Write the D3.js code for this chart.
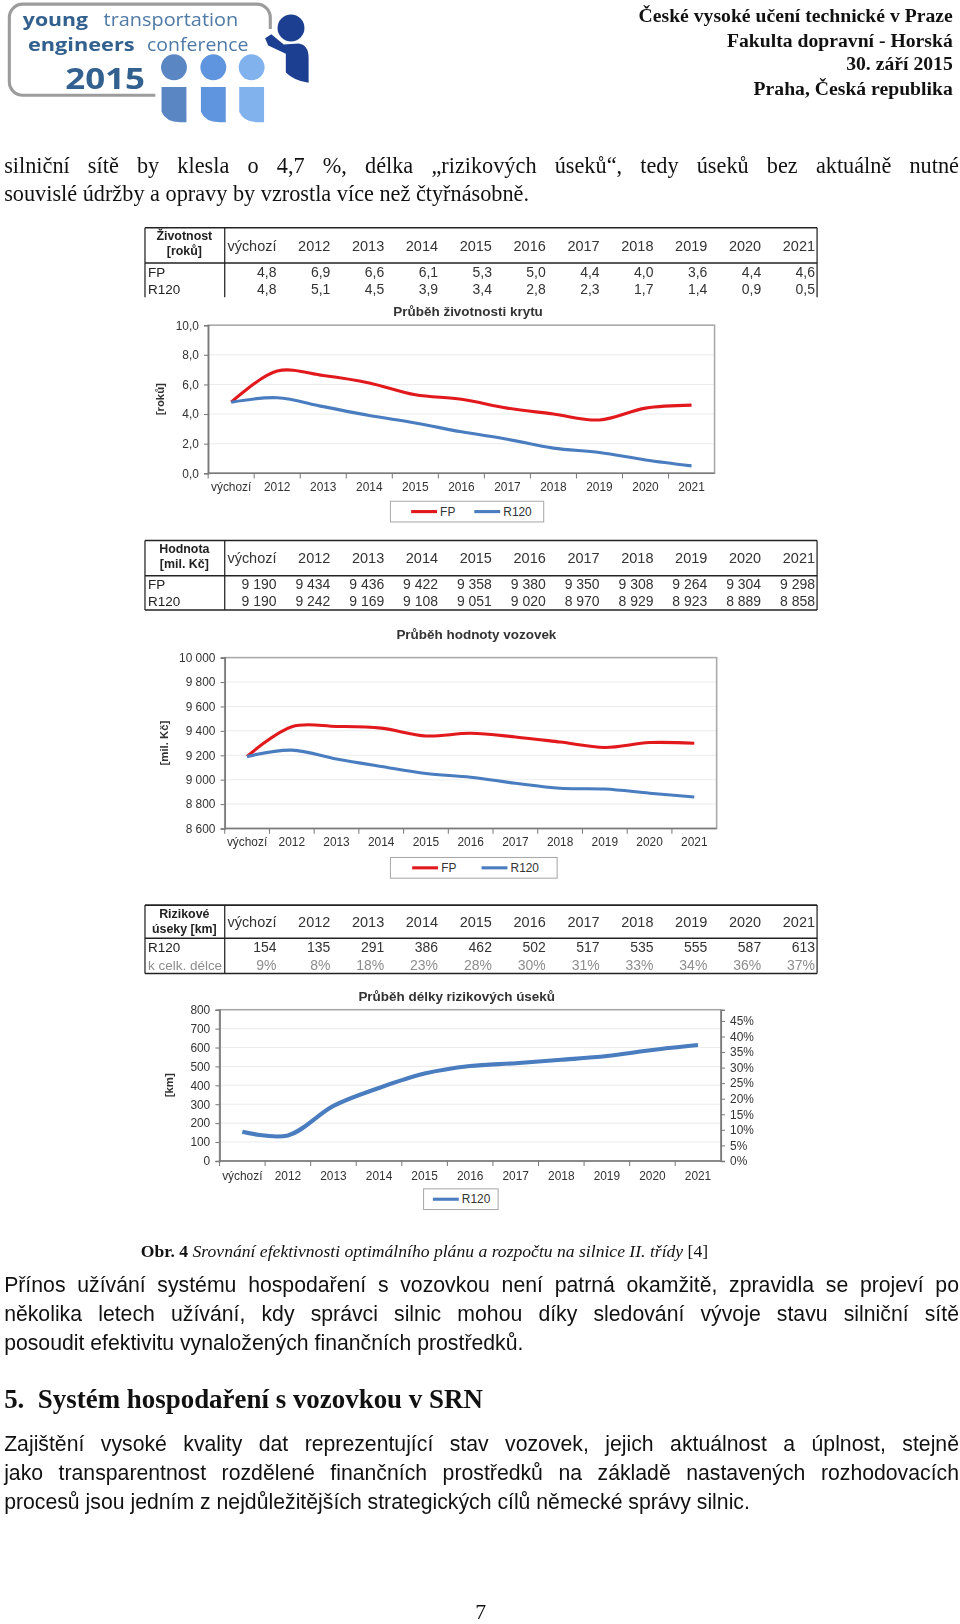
<!DOCTYPE html>
<html>
<head>
<meta charset="utf-8">
<script src="https://cdn.jsdelivr.net/npm/d3@7"></script>
<style>
  body { margin: 0; background: #fff; overflow: hidden; width: 960px; height: 1624px; }
  /* layout was measured on a 927px wide copy of the page, so scale up to 960 */
  #page { position: relative; width: 927px; height: 1568px; transform: scale(1.0356); transform-origin: 0 0; }
  #page svg { position: absolute; left: 0; top: 0; }
  .t { position: absolute; white-space: nowrap; color: #111; line-height: 1; }
  .serif { font-family: "Liberation Serif", "Times New Roman", serif; }
  .sans { font-family: "Liberation Sans", Arial, sans-serif; }
  .just { text-align: justify; text-align-last: justify; white-space: normal; }
  .hdr { font-weight: bold; font-size: 19px; right: 7px; text-align: right; }
</style>
</head>
<body>
<div id="page"></div>
<script>
// categories shared by all three tables / charts
const cats = ["výchozí", "2012", "2013", "2014", "2015", "2016", "2017", "2018", "2019", "2020", "2021"];

// Průběh životnosti krytu [roků]
const lifeFP   = [4.8, 6.9, 6.6, 6.1, 5.3, 5.0, 4.4, 4.0, 3.6, 4.4, 4.6];
const lifeR120 = [4.8, 5.1, 4.5, 3.9, 3.4, 2.8, 2.3, 1.7, 1.4, 0.9, 0.5];
const lifeTicks = [0, 2, 4, 6, 8, 10];

// Průběh hodnoty vozovek [mil. Kč]
const valueFP   = [9190, 9434, 9436, 9422, 9358, 9380, 9350, 9308, 9264, 9304, 9298];
const valueR120 = [9190, 9242, 9169, 9108, 9051, 9020, 8970, 8929, 8923, 8889, 8858];
const valueTicks = [8600, 8800, 9000, 9200, 9400, 9600, 9800, 10000];

// Průběh délky rizikových úseků [km] + podíl k celkové délce
const riskR120  = [154, 135, 291, 386, 462, 502, 517, 535, 555, 587, 613];
const riskShare = [0.09, 0.08, 0.18, 0.23, 0.28, 0.30, 0.31, 0.33, 0.34, 0.36, 0.37];
const riskTicks  = [0, 100, 200, 300, 400, 500, 600, 700, 800];
const shareTicks = [0, 0.05, 0.10, 0.15, 0.20, 0.25, 0.30, 0.35, 0.40, 0.45];

const RED = "#e2191c", BLUE = "#4a7dbf";
const SANS = "'Liberation Sans', Arial, sans-serif";

const loc = d3.formatLocale({ decimal: ",", thousands: "\u00a0", grouping: [3], currency: ["", " Kč"] });
const f1 = loc.format(".1f"), fK = loc.format(",.0f"), fP = loc.format(".0%");

const page = d3.select("#page");

// ---------- running text (html, so lines can be justified) ----------
function line(txt, x, base, size, cls, opts = {}) {
  const d = page.append("div")
    .attr("class", "t " + cls)
    .style("left", x + "px")
    .style("top", (base - 0.84 * size) + "px")
    .style("font-size", size + "px");
  if (opts.width) d.style("width", opts.width + "px");
  if (opts.html) d.html(txt); else d.text(txt);
  return d;
}

const hdrLines = ["České vysoké učení technické v Praze", "Fakulta dopravní - Horská", "30. září 2015", "Praha, Česká republika"];
hdrLines.forEach((s, i) => {
  page.append("div").attr("class", "t serif hdr")
    .style("top", (5 + i * 23.5) + "px").text(s);
});

line("silniční sítě by klesla o 4,7 %, délka „rizikových úseků“, tedy úseků bez aktuálně nutné", 4, 168, 21.5, "serif just", { width: 922 });
line("souvislé údržby a opravy by vzrostla více než čtyřnásobně.", 4, 195, 21.5, "serif");

line("<b>Obr. 4</b> <i>Srovnání efektivnosti optimálního plánu a rozpočtu na silnice II. třídy</i> [4]", 136, 1214, 17, "serif", { html: true });

line("Přínos užívání systému hospodaření s vozovkou není patrná okamžitě, zpravidla se projeví po", 4, 1248, 20.5, "sans just", { width: 922 });
line("několika letech užívání, kdy správci silnic mohou díky sledování vývoje stavu silniční sítě", 4, 1276, 20.5, "sans just", { width: 922 });
line("posoudit efektivitu vynaložených finančních prostředků.", 4, 1304, 20.5, "sans");

line("<b>5.&nbsp;&nbsp;Systém hospodaření s vozovkou v SRN</b>", 4, 1361, 26, "serif", { html: true });

line("Zajištění vysoké kvality dat reprezentující stav vozovek, jejich aktuálnost a úplnost, stejně", 4, 1401, 20.5, "sans just", { width: 922 });
line("jako transparentnost rozdělené finančních prostředků na základě nastavených rozhodovacích", 4, 1429, 20.5, "sans just", { width: 922 });
line("procesů jsou jedním z nejdůležitějších strategických cílů německé správy silnic.", 4, 1457, 20.5, "sans");

line("7", 459, 1564, 21, "serif");

// ---------- svg layer: logo, tables, charts ----------
const svg = page.append("svg").attr("width", 927).attr("height", 1568);

// logo
const logo = svg.append("g");
logo.append("rect").attr("x", 9).attr("y", 4).attr("width", 252).attr("height", 88).attr("rx", 13)
  .attr("fill", "none").attr("stroke", "#9c9c9c").attr("stroke-width", 3);
logo.append("rect").attr("x", 150).attr("y", 60).attr("width", 120).attr("height", 40).attr("fill", "#fff");
logo.append("rect").attr("x", 250).attr("y", 28).attr("width", 20).attr("height", 40).attr("fill", "#fff");
const lt = (s, x, y, w, size, weight, col) => logo.append("text").attr("x", x).attr("y", y)
  .attr("textLength", w).attr("lengthAdjust", "spacingAndGlyphs")
  .attr("font-family", "'Open Sans', 'DejaVu Sans', sans-serif").attr("font-size", size)
  .attr("font-weight", weight).attr("fill", col).text(s);
lt("young", 22, 25.5, 63, 17, "bold", "#33618f");
lt("transportation", 100, 25.5, 130, 17, "normal", "#4f7aa6");
lt("engineers", 27, 49, 103, 17, "bold", "#33618f");
lt("conference", 142, 49, 98, 17, "normal", "#4f7aa6");
lt("2015", 63, 86, 77, 28, "bold", "#33618f");
[["#5a86c4", 168], ["#5f95df", 206], ["#82b2ee", 243]].forEach(([c, cx]) => {
  logo.append("circle").attr("cx", cx).attr("cy", 65).attr("r", 12.5).attr("fill", c);
  logo.append("path").attr("fill", c)
    .attr("d", `M${cx - 12},84 h24 v34 h-6 q-14,0 -18,-10 z`);
});
logo.append("circle").attr("cx", 281).attr("cy", 27).attr("r", 13).attr("fill", "#1d3f92");
logo.append("path").attr("fill", "#1d3f92")
  .attr("d", "M256,37 L262,33 L274,43 L288,42 Q298,43 298,56 L298,80 Q284,78 276,70 L276,52 L259,44 Z");

// tables
const tx = d3.scaleBand().domain(cats).range([217, 789]);
function drawTable(cfg) {
  const g = svg.append("g").attr("font-family", SANS);
  const bot = cfg.top + cfg.headH + cfg.rows.length * cfg.rowH;
  const ln = (x1, y1, x2, y2, w) => g.append("line").attr("x1", x1).attr("y1", y1).attr("x2", x2).attr("y2", y2)
    .attr("stroke", "#222").attr("stroke-width", w);
  ln(140, cfg.top, 789, cfg.top, 1.5);
  ln(140, cfg.top + cfg.headH, 789, cfg.top + cfg.headH, 1.5);
  ln(140, cfg.top, 140, bot, 1.2);
  ln(789, cfg.top, 789, bot, 1.2);
  ln(217, cfg.top, 217, bot, 1.2);
  if (cfg.bottom) ln(140, bot, 789, bot, 1.5);
  cfg.head.forEach((s, i) => g.append("text").attr("x", 178).attr("y", cfg.top + 12 + i * 14.5)
    .attr("text-anchor", "middle").attr("font-size", 12).attr("font-weight", "bold").attr("fill", "#222").text(s));
  g.selectAll(".hc").data(cats).join("text")
    .attr("x", d => tx(d) + tx.bandwidth() - 2).attr("y", cfg.top + cfg.headH / 2 + 5)
    .attr("text-anchor", "end").attr("font-size", 14).attr("fill", "#333").text(d => d);
  cfg.rows.forEach((r, i) => {
    const y = cfg.top + cfg.headH + (i + 1) * cfg.rowH - 3.5;
    g.append("text").attr("x", 143).attr("y", y).attr("font-size", 13).attr("fill", r.color || "#222").text(r.label);
    g.selectAll(null).data(r.values).join("text")
      .attr("x", (d, j) => tx(cats[j]) + tx.bandwidth() - 2).attr("y", y)
      .attr("text-anchor", "end").attr("font-size", 13.5).attr("fill", r.color || "#333").text(r.fmt);
  });
}

drawTable({ top: 220, headH: 34, rowH: 16.5, head: ["Životnost", "[roků]"], bottom: false,
  rows: [{ label: "FP", values: lifeFP, fmt: f1 }, { label: "R120", values: lifeR120, fmt: f1 }] });
drawTable({ top: 522, headH: 34, rowH: 16.5, head: ["Hodnota", "[mil. Kč]"], bottom: true,
  rows: [{ label: "FP", values: valueFP, fmt: fK }, { label: "R120", values: valueR120, fmt: fK }] });
drawTable({ top: 874, headH: 32, rowH: 17, head: ["Rizikové", "úseky [km]"], bottom: true,
  rows: [{ label: "R120", values: riskR120, fmt: fK },
         { label: "k celk. délce", values: riskShare, fmt: fP, color: "#8d8d8d" }] });

// charts
function drawChart(cfg) {
  const g = svg.append("g").attr("font-family", SANS);
  const x = d3.scaleBand().domain(cats).range(cfg.xr);
  const y = d3.scaleLinear().domain(cfg.yDomain).range(cfg.yr);
  const [x0, x1] = cfg.xr, [y0, y1] = cfg.yr;

  g.selectAll(".grid").data(cfg.ticks.slice(1)).join("line")
    .attr("x1", x0).attr("x2", x1).attr("y1", d => y(d)).attr("y2", d => y(d))
    .attr("stroke", "#ececec");
  g.append("rect").attr("x", x0).attr("y", y1).attr("width", x1 - x0).attr("height", y0 - y1)
    .attr("fill", "none").attr("stroke", "#a8a8a8").attr("stroke-width", 1.5);

  const ya = g.append("g").attr("transform", `translate(${x0},0)`)
    .call(d3.axisLeft(y).tickValues(cfg.ticks).tickFormat(cfg.fmt).tickSizeOuter(0).tickSize(4).tickPadding(5));
  ya.select(".domain").attr("stroke", "#7a7a7a").attr("stroke-width", 1.5);
  ya.selectAll(".tick line").attr("stroke", "#7a7a7a");
  ya.selectAll("text").attr("font-size", 11.5).attr("fill", "#333").attr("font-family", SANS);

  const xa = g.append("g").attr("transform", `translate(0,${y0})`);
  xa.append("line").attr("x1", x0).attr("x2", x1).attr("stroke", "#7a7a7a").attr("stroke-width", 1.5);
  xa.selectAll(".xt").data(cats).join("line")
    .attr("x1", d => x(d)).attr("x2", d => x(d)).attr("y1", 0).attr("y2", 5).attr("stroke", "#7a7a7a");
  xa.selectAll(".xl").data(cats).join("text")
    .attr("x", d => x(d) + x.bandwidth() / 2).attr("y", cfg.xLabelDy)
    .attr("text-anchor", "middle").attr("font-size", 11.5).attr("fill", "#333").text(d => d);

  if (cfg.right) {
    const y2 = d3.scaleLinear().domain(cfg.right.domain).range(cfg.yr);
    const ra = g.append("g").attr("transform", `translate(${x1},0)`)
      .call(d3.axisRight(y2).tickValues(cfg.right.ticks).tickFormat(fP).tickSizeOuter(0).tickSize(4).tickPadding(5));
    ra.select(".domain").attr("stroke", "#7a7a7a").attr("stroke-width", 1.5);
    ra.selectAll(".tick line").attr("stroke", "#7a7a7a");
    ra.selectAll("text").attr("font-size", 11.5).attr("fill", "#333").attr("font-family", SANS);
  }

  const path = d3.line().x((d, i) => x(cats[i]) + x.bandwidth() / 2).y(d => y(d)).curve(d3.curveCatmullRom.alpha(0.5));
  cfg.series.forEach(s => g.append("path").datum(s.values).attr("d", path)
    .attr("fill", "none").attr("stroke", s.color).attr("stroke-width", cfg.lw).attr("stroke-linejoin", "round"));

  g.append("text").attr("x", cfg.titleX).attr("y", cfg.titleY).attr("text-anchor", "middle")
    .attr("font-size", 13).attr("font-weight", "bold").attr("fill", "#333").text(cfg.title);
  g.append("text").attr("transform", `translate(${cfg.yLabelX},${(y0 + y1) / 2}) rotate(-90)`)
    .attr("text-anchor", "middle").attr("font-size", 11).attr("font-weight", "bold").attr("fill", "#333").text(cfg.yLabel);

  const L = cfg.legend;
  const lg = g.append("g").attr("transform", `translate(${L.x},${L.y})`);
  lg.append("rect").attr("width", L.w).attr("height", 20).attr("fill", "#fff").attr("stroke", "#a8a8a8");
  cfg.series.forEach((s, i) => {
    const ox = L.pad + i * L.step;
    lg.append("line").attr("x1", ox).attr("x2", ox + 25).attr("y1", 10).attr("y2", 10)
      .attr("stroke", s.color).attr("stroke-width", 3);
    lg.append("text").attr("x", ox + 28).attr("y", 14).attr("font-size", 11.5).attr("fill", "#333").text(s.name);
  });
}

drawChart({
  xr: [201, 690], yr: [457, 314], yDomain: [0, 10], ticks: lifeTicks, fmt: f1, xLabelDy: 17, lw: 3,
  series: [{ name: "FP", values: lifeFP, color: RED }, { name: "R120", values: lifeR120, color: BLUE }],
  title: "Průběh životnosti krytu", titleX: 452, titleY: 305, yLabel: "[roků]", yLabelX: 158,
  legend: { x: 377, y: 484, w: 148, pad: 20, step: 61 }
});

drawChart({
  xr: [217, 692], yr: [800, 635], yDomain: [8600, 10000], ticks: valueTicks, fmt: fK, xLabelDy: 17, lw: 3,
  series: [{ name: "FP", values: valueFP, color: RED }, { name: "R120", values: valueR120, color: BLUE }],
  title: "Průběh hodnoty vozovek", titleX: 460, titleY: 617, yLabel: "[mil. Kč]", yLabelX: 162,
  legend: { x: 377, y: 828, w: 161, pad: 21, step: 67 }
});

drawChart({
  xr: [212, 696], yr: [1121, 975], yDomain: [0, 800], ticks: riskTicks, fmt: fK, xLabelDy: 18, lw: 4,
  series: [{ name: "R120", values: riskR120, color: BLUE }],
  right: { domain: [0, 0.486], ticks: shareTicks },
  title: "Průběh délky rizikových úseků", titleX: 441, titleY: 967, yLabel: "[km]", yLabelX: 167,
  legend: { x: 409, y: 1148, w: 72, pad: 9, step: 60 }
});
</script>
</body>
</html>
